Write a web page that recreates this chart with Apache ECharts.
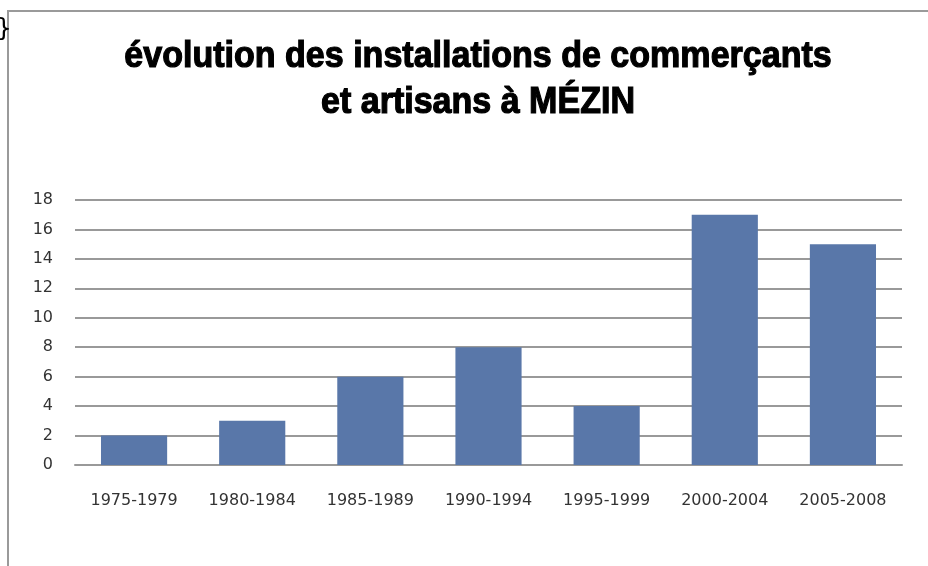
<!DOCTYPE html>
<html>
<head>
<meta charset="utf-8">
<script src="https://cdn.jsdelivr.net/npm/echarts@6/dist/echarts.min.js"></script>
<style>
  html, body { margin: 0; padding: 0; background: #fff; }
  #chart { width: 928px; height: 566px; }
</style>
</head>
<body>
<div id="chart"></div>
<script>
// periods and number of new shops/craftsmen per period
let periods = ["1975-1979", "1980-1984", "1985-1989", "1990-1994", "1995-1999", "2000-2004", "2005-2008"];
let installations = [2, 3, 6, 8, 4, 17, 15];
let titleLines = "évolution des installations de commerçants\net artisans à MÉZIN";

let chart = echarts.init(document.getElementById("chart"));

let option = {
  backgroundColor: "#fff",
  animation: false,
  graphic: [
    {
      type: "polyline",
      shape: { points: [[8, 566], [8, 11], [928, 11]] },
      style: { stroke: "#9a9a9a", lineWidth: 2, fill: null }
    },
    {
      type: "text",
      x: -4,
      y: 17,
      style: { text: "}", fontSize: 25, fill: "#000", fontFamily: "DejaVu Sans" }
    },
    {
      // title drawn as graphic text so it can be squeezed like the condensed original
      type: "text",
      x: 478,
      y: 80,
      scaleX: 0.92,
      style: {
        text: titleLines,
        align: "center",
        verticalAlign: "middle",
        fontFamily: "Liberation Sans",
        fontWeight: "bold",
        fontSize: 37,
        lineHeight: 46,
        fill: "#000",
        stroke: "#000",
        lineWidth: 1.2
      }
    }
  ],
  grid: {
    left: 75,
    right: 26,
    top: 200,
    bottom: 101
  },
  xAxis: {
    type: "category",
    data: periods,
    axisLine: { lineStyle: { color: "#999", width: 2 } },
    axisTick: { show: false },
    axisLabel: {
      margin: 28,
      fontFamily: "DejaVu Sans",
      fontSize: 16,
      color: "#333"
    }
  },
  yAxis: {
    type: "value",
    min: 0,
    max: 18,
    interval: 2,
    axisLine: { show: false },
    axisTick: { show: false },
    axisLabel: {
      margin: 22,
      fontFamily: "DejaVu Sans",
      fontSize: 16,
      color: "#333"
    },
    splitLine: { lineStyle: { color: "#999", width: 2 } }
  },
  series: [
    {
      type: "bar",
      data: installations,
      barWidth: "56%",
      itemStyle: { color: "#5977a9" }
    }
  ]
};

chart.setOption(option);
</script>
</body>
</html>
